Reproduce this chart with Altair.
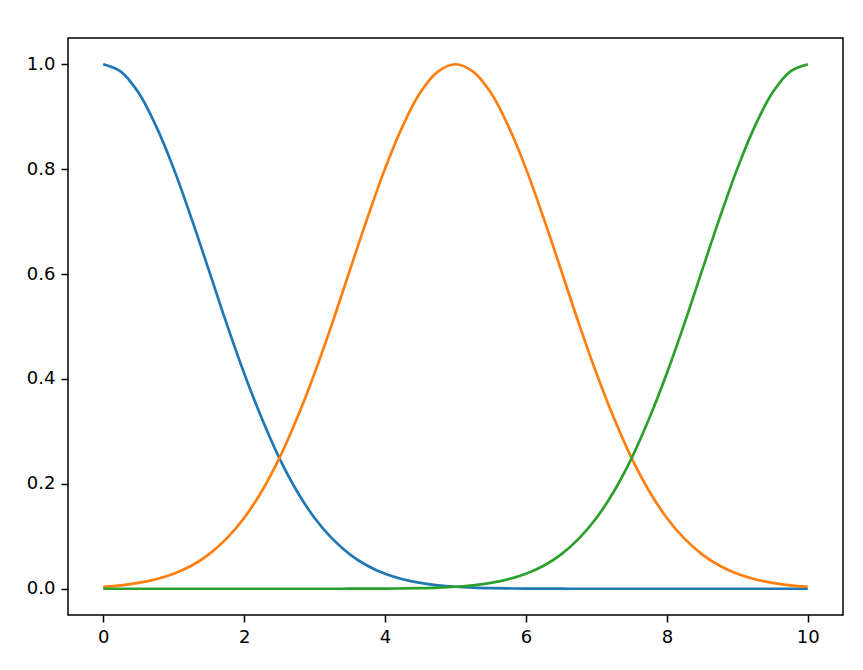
import altair as alt
import pandas as pd

x_vals = [i * 0.25 for i in range(41)]

blue = [1.000, 0.986, 0.946, 0.882, 0.801, 0.707, 0.607, 0.506, 0.411, 0.325,
        0.249, 0.186, 0.135, 0.0956, 0.0657, 0.0439, 0.0286, 0.0181, 0.0111, 0.0066,
        0.0039, 0.0022, 0.0012, 0.0006, 0.0003, 0.0001, 0.0001, 0.0, 0.0, 0.0,
        0.0, 0.0, 0.0, 0.0, 0.0, 0.0, 0.0, 0.0, 0.0, 0.0, 0.0]
orange = [0.0039, 0.0066, 0.0111, 0.0181, 0.0286, 0.0439, 0.0657, 0.0956, 0.135, 0.186,
          0.249, 0.325, 0.411, 0.506, 0.607, 0.707, 0.801, 0.882, 0.946, 0.986,
          1.000, 0.986, 0.946, 0.882, 0.801, 0.707, 0.607, 0.506, 0.411, 0.325,
          0.249, 0.186, 0.135, 0.0956, 0.0657, 0.0439, 0.0286, 0.0181, 0.0111, 0.0066, 0.0039]
green = blue[::-1]

series_names = ["a", "b", "c"]
series_colors = ["#1f77b4", "#ff7f0e", "#2ca02c"]

rows = []
for name, ys in zip(series_names, [blue, orange, green]):
    for xv, yv in zip(x_vals, ys):
        rows.append({"x": xv, "y": yv, "s": name})
df = pd.DataFrame(rows)

chart = alt.Chart(df).mark_line(strokeWidth=2.7, interpolate="catmull-rom").encode(
    x=alt.X("x:Q", scale=alt.Scale(domain=[-0.5, 10.5], nice=False, zero=False),
            axis=alt.Axis(values=[0, 2, 4, 6, 8, 10], format="d", title=None)),
    y=alt.Y("y:Q", scale=alt.Scale(domain=[-0.05, 1.05], nice=False, zero=False),
            axis=alt.Axis(values=[0.0, 0.2, 0.4, 0.6, 0.8, 1.0], format=".1f", title=None)),
    color=alt.Color("s:N", scale=alt.Scale(domain=series_names, range=series_colors), legend=None),
    order=alt.Order("x:Q"),
).properties(
    width=775, height=577,
    autosize=alt.AutoSizeParams(type="none"),
    padding={"left": 60, "top": 30, "right": 10, "bottom": 44},
).configure_view(
    stroke="black", strokeWidth=1.5
).configure_axis(
    grid=False, domain=False, ticks=True, tickColor="black", tickWidth=1.5, tickSize=7,
    labelFont="DejaVu Sans", labelFontSize=18, labelColor="black", labelPadding=6,
)

chart.save("out.html", embed_options={"renderer": "svg", "actions": False})
